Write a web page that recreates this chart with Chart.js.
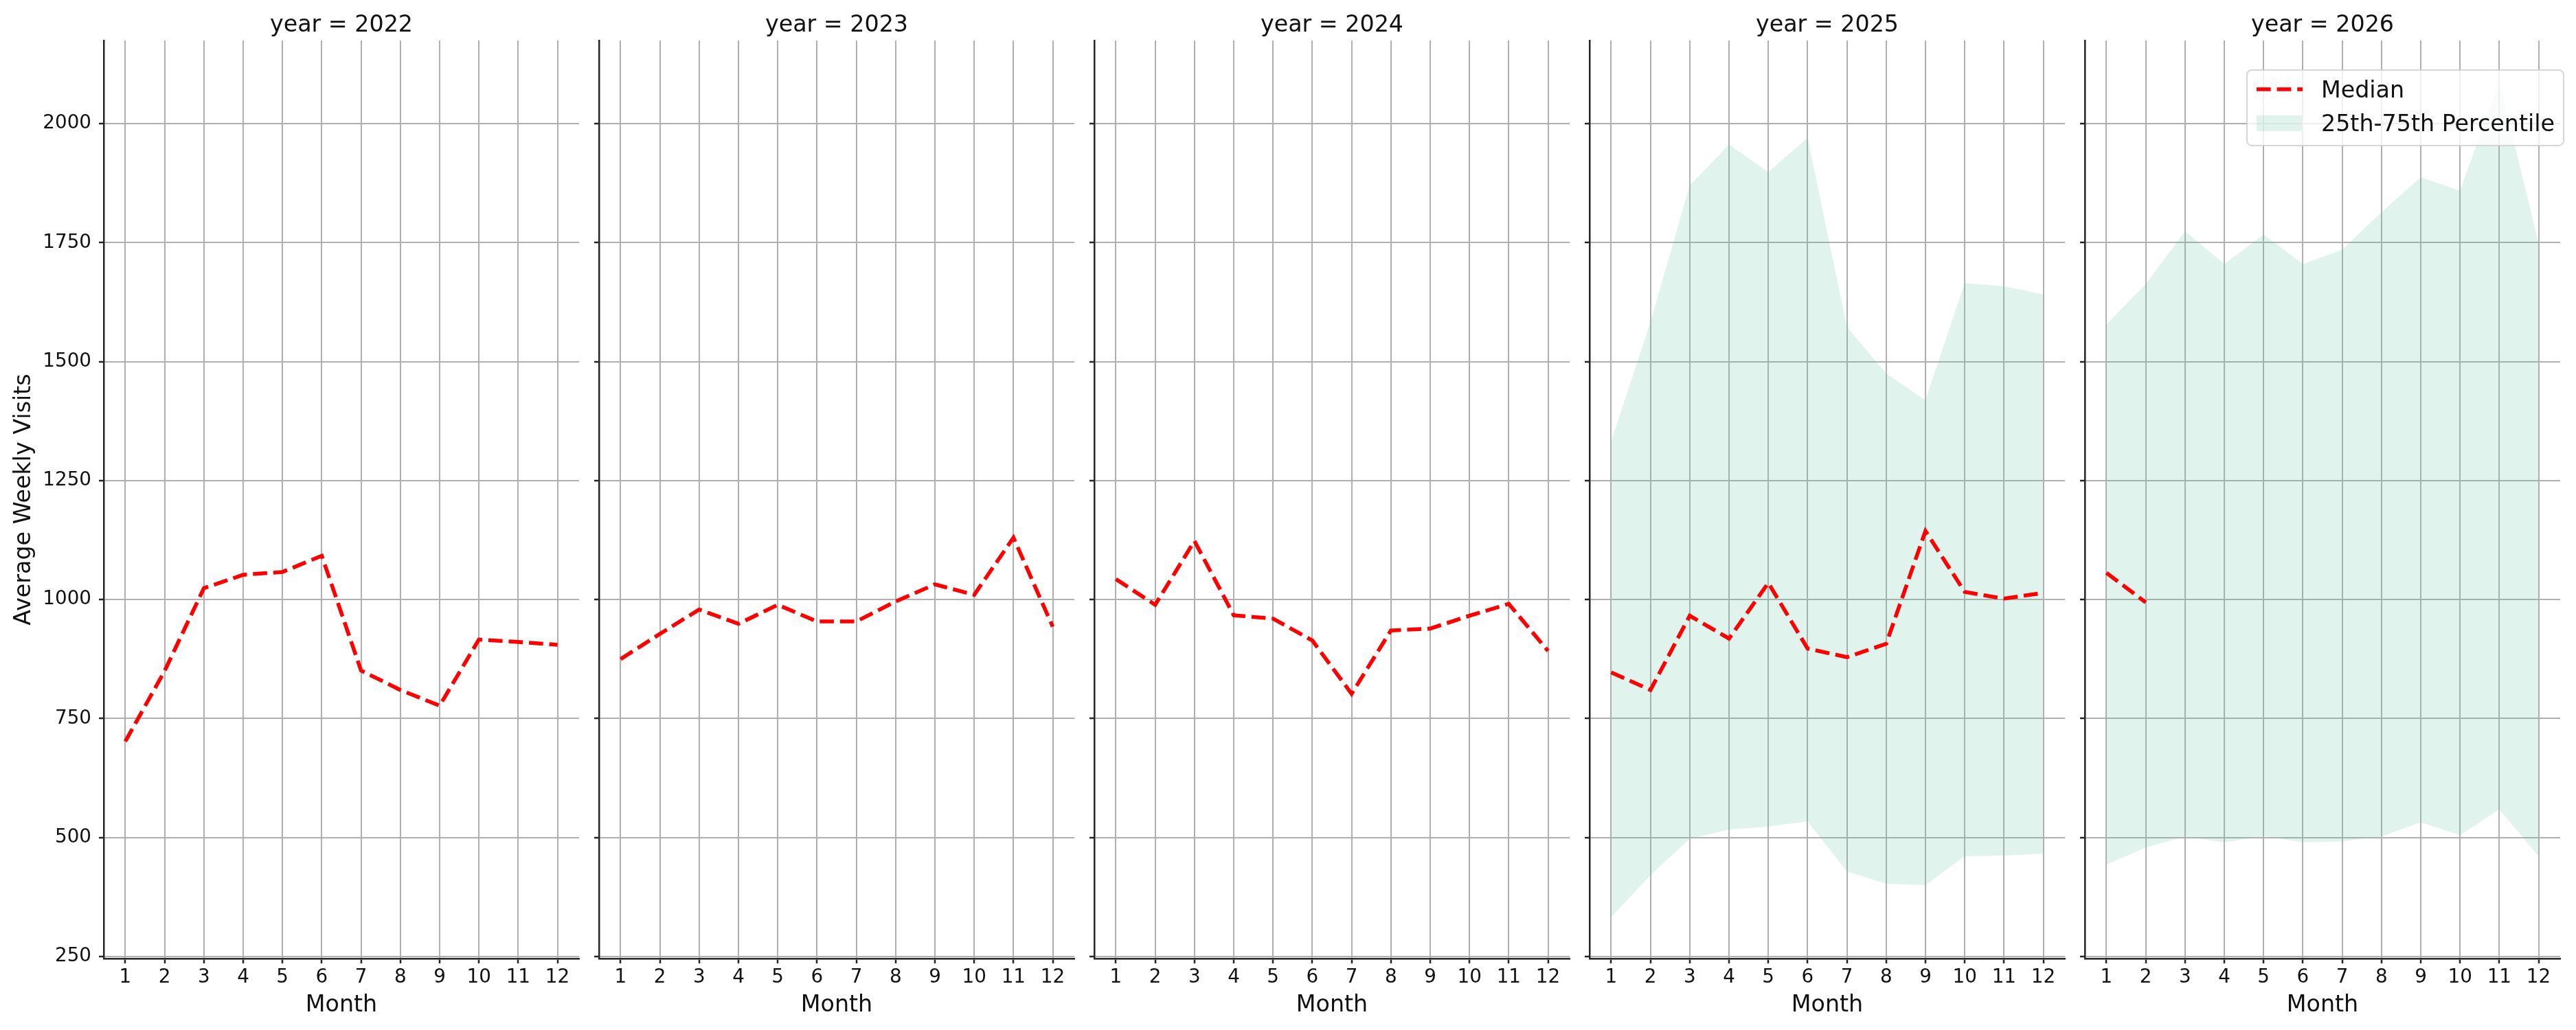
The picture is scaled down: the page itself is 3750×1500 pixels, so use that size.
<!DOCTYPE html>
<html>
<head>
<meta charset="utf-8">
<script src="https://cdn.jsdelivr.net/npm/chart.js@4.4.0/dist/chart.umd.min.js"></script>
<style>
  html, body { margin: 0; padding: 0; background: #fff; }
  #wrap { position: relative; width: 3750px; height: 1500px; overflow: hidden; }
  .panel { position: absolute; top: 0; height: 1500px; }
</style>
</head>
<body>
<div id="wrap"></div>
<script>
// facet chart: median weekly visits per month, one panel per year

const years = [2022, 2023, 2024, 2025, 2026];
const months = [1, 2, 3, 4, 5, 6, 7, 8, 9, 10, 11, 12];
const yTicks = [250, 500, 750, 1000, 1250, 1500, 1750, 2000];

const median2022 = [702, 850, 1024, 1052, 1058, 1092, 851, 810, 777, 916, 911, 905];
const median2023 = [875, 928, 979, 949, 989, 954, 954, 996, 1032, 1010, 1130, 943];
const median2024 = [1043, 989, 1123, 967, 960, 914, 802, 935, 939, 966, 991, 892];
const median2025 = [847, 810, 966, 918, 1035, 897, 879, 907, 1144, 1016, 1002, 1014];
const median2026 = [1056, 994];

const p25_2025 = [333, 421, 497, 517, 523, 534, 429, 403, 400, 461, 462, 466];
const p75_2025 = [1332, 1583, 1870, 1956, 1898, 1970, 1573, 1475, 1419, 1665, 1658, 1641];
const p25_2026 = [443, 479, 502, 490, 503, 490, 492, 502, 532, 505, 559, 461];
const p75_2026 = [1578, 1663, 1774, 1705, 1767, 1705, 1735, 1814, 1887, 1859, 2087, 1749];

const medians = [median2022, median2023, median2024, median2025, median2026];
const lows = [null, null, null, p25_2025, p25_2026];
const highs = [null, null, null, p75_2025, p75_2026];

// layout of the five facets (pixels)
const panelLeft = [151, 872, 1593, 2314, 3035];
const panelWidth = 692;
const rightPad = 20;  // legend pokes a little past the last plot
const FONT = 'DejaVu Sans';
const INK = '#111';
const SPINE = '#262626';
const BAND = 'rgba(102,194,165,0.2)';

const pts = arr => arr.map((v, i) => ({ x: months[i], y: v }));

// matplotlib-like legend drawn inside the last facet
const facetLegend = {
  id: 'facetLegend',
  afterDraw(chart, args, opts) {
    if (!opts.show) return;
    const ctx = chart.ctx;
    const a = chart.chartArea;
    const x0 = a.right - 456, y0 = a.top + 43, w = 461, h = 110;
    ctx.save();
    ctx.beginPath();
    ctx.roundRect(x0, y0, w, h, 7);
    ctx.fillStyle = 'rgba(255,255,255,0.8)';
    ctx.fill();
    ctx.lineWidth = 2;
    ctx.strokeStyle = 'rgba(204,204,204,0.8)';
    ctx.stroke();
    // median sample
    ctx.beginPath();
    ctx.setLineDash([20.7, 8.9]);
    ctx.lineWidth = 5.6;
    ctx.strokeStyle = '#ff0000';
    ctx.moveTo(x0 + 14, y0 + 28);
    ctx.lineTo(x0 + 81, y0 + 28);
    ctx.stroke();
    ctx.setLineDash([]);
    // band sample
    ctx.fillStyle = BAND;
    ctx.fillRect(x0 + 14, y0 + 66, 66, 23);
    ctx.fillStyle = INK;
    ctx.font = '33.3px "' + FONT + '"';
    ctx.textBaseline = 'alphabetic';
    ctx.textAlign = 'left';
    ctx.fillText('Median', x0 + 108, y0 + 40);
    ctx.fillText('25th-75th Percentile', x0 + 108, y0 + 89);
    ctx.restore();
  }
};

const wrap = document.getElementById('wrap');

years.forEach((yr, i) => {
  // only the first facet carries y labels; the others just need room for tick marks
  const axisW = i === 0 ? 151 : 10;
  const div = document.createElement('div');
  div.className = 'panel';
  div.style.left = (panelLeft[i] - axisW) + 'px';
  div.style.width = (axisW + panelWidth + rightPad) + 'px';
  const canvas = document.createElement('canvas');
  canvas.width = axisW + panelWidth + rightPad;
  canvas.height = 1500;
  div.appendChild(canvas);
  wrap.appendChild(div);

  const datasets = [{
    label: 'Median',
    data: pts(medians[i]),
    borderColor: '#ff0000',
    borderWidth: 5.6,
    borderDash: [20.7, 8.9],
    pointRadius: 0,
    tension: 0,
    fill: false
  }];
  if (lows[i]) {
    datasets.push({
      label: '25th Percentile',
      data: pts(lows[i]),
      borderWidth: 0,
      borderColor: 'rgba(0,0,0,0)',
      pointRadius: 0,
      fill: false
    });
    datasets.push({
      label: '25th-75th Percentile',
      data: pts(highs[i]),
      borderWidth: 0,
      borderColor: 'rgba(0,0,0,0)',
      backgroundColor: BAND,
      pointRadius: 0,
      fill: '-1'
    });
  }

  new Chart(canvas, {
    type: 'line',
    data: { datasets },
    plugins: [facetLegend],
    options: {
      responsive: false,
      animation: false,
      events: [],
      layout: { padding: { left: 0, right: rightPad, top: 0, bottom: 0 } },
      plugins: {
        legend: { display: false },
        tooltip: { enabled: false },
        facetLegend: { show: i === years.length - 1 },
        title: {
          display: true,
          text: 'year = ' + yr,
          fullSize: false,
          color: INK,
          font: { family: FONT, size: 33.3, weight: 'normal' },
          padding: { top: 17, bottom: 2 }
        }
      },
      scales: {
        x: {
          type: 'linear',
          min: 0.45,
          max: 12.55,
          afterBuildTicks: s => { s.ticks = months.map(v => ({ value: v })); },
          afterFit: s => { s.height = 104; },
          grid: { color: '#b0b0b0', lineWidth: 2, tickColor: SPINE, tickWidth: 2.5, tickLength: 7 },
          border: { color: SPINE, width: 2.5 },
          ticks: {
            color: INK, padding: 4, maxRotation: 0, autoSkip: false,
            font: { family: FONT, size: 27.8 },
            callback: v => String(v)
          },
          title: {
            display: true, text: 'Month', color: INK,
            font: { family: FONT, size: 33.3 },
            padding: { top: 0, bottom: 16 }
          }
        },
        y: {
          type: 'linear',
          min: 245.7,
          max: 2174.6,
          afterBuildTicks: s => { s.ticks = yTicks.map(v => ({ value: v })); },
          afterFit: s => { s.width = axisW; },
          grid: { color: '#b0b0b0', lineWidth: 2, tickColor: SPINE, tickWidth: 2.5, tickLength: 7 },
          border: { color: SPINE, width: 2.5 },
          ticks: {
            display: i === 0,
            color: INK, padding: 11,
            font: { family: FONT, size: 27.8 },
            callback: v => String(v)
          },
          title: {
            display: i === 0, text: 'Average Weekly Visits', color: INK,
            font: { family: FONT, size: 33.3 },
            padding: { top: 15, bottom: 0 }
          }
        }
      }
    }
  });
});
</script>
</body>
</html>
